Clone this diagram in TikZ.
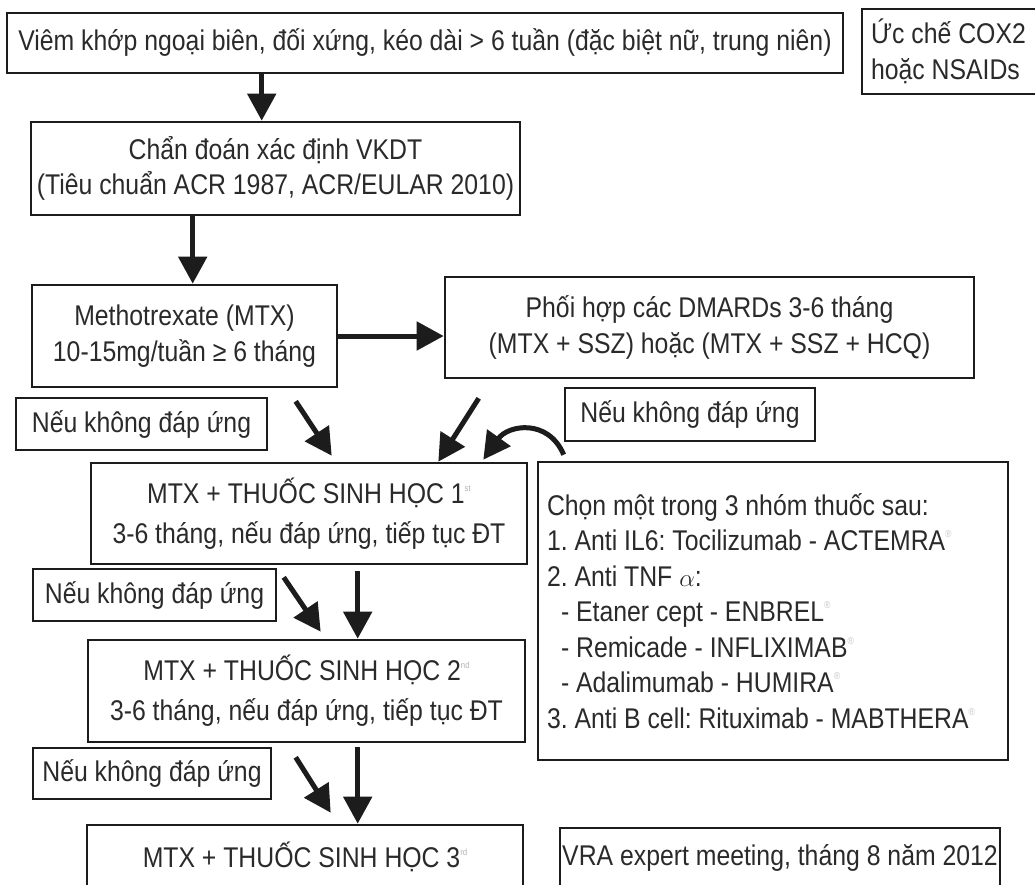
\documentclass[tikz,border=0pt]{standalone}
\usepackage{fontspec}
\setmainfont{Liberation Sans}[FakeStretch=0.87]
\usetikzlibrary{arrows.meta,calc}
\definecolor{ink}{HTML}{2A2A2A}
\definecolor{edge}{HTML}{1C1C1C}
\newcommand\supsc[1]{\raisebox{12pt}{\fontsize{9}{9}\selectfont\color{gray!60}#1}}
\newcommand\regm{\raisebox{13pt}{\fontsize{10}{10}\selectfont\color{gray!45}®}}
\frenchspacing
\begin{document}
\begin{tikzpicture}[x=1pt,y=-1pt,
  box/.style={draw=edge, line width=2.6pt, fill=white, inner sep=0pt, align=center,
    text=ink, font=\fontsize{28.5}{35.5}\selectfont\frenchspacing},
  wide/.style={font=\fontsize{28.5}{40}\selectfont\frenchspacing},
  arr/.style={draw=edge, line width=5pt, -{Triangle[length=27pt,width=28pt]}},
]
\useasboundingbox (0,0) rectangle (1035,884);
\fill[white] (0,0) rectangle (1035,884);
\clip (0,0) rectangle (1035,884);

\node[box, minimum width=836pt, minimum height=60pt] (b1) at (425,43)
  {Viêm khớp ngoại biên, đối xứng, kéo dài > 6 tuần (đặc biệt nữ, trung niên)};
\node[box, minimum width=188pt, minimum height=85pt, text width=170pt, align=flush left, inner xsep=9pt] (cox) at (956,51.5)
  {\mbox{Ức chế COX2}\\\mbox{hoặc NSAIDs}};
\node[box, minimum width=489pt, minimum height=93pt] (b2) at (275.5,168.5)
  {Chẩn đoán xác định VKDT\\(Tiêu chuẩn ACR 1987, ACR/EULAR 2010)};
\node[box, minimum width=305pt, minimum height=102pt] (b3) at (184.5,336)
  {Methotrexate (MTX)\\10-15mg/tuần ≥ 6 tháng};
\node[box, minimum width=529pt, minimum height=101pt] (b4) at (709.5,327.5)
  {Phối hợp các DMARDs 3-6 tháng\\(MTX + SSZ) hoặc (MTX + SSZ + HCQ)};
\node[box, minimum width=251pt, minimum height=52pt] (L1) at (141.5,424) {Nếu không đáp ứng};
\node[box, minimum width=250pt, minimum height=53pt] (L2) at (690,414.5) {Nếu không đáp ứng};
\node[box, wide, minimum width=436pt, minimum height=101pt] (b5) at (309,513.5)
  {MTX + THUỐC SINH HỌC 1\supsc{st}\\3-6 tháng, nếu đáp ứng, tiếp tục ĐT};
\node[box, minimum width=470pt, minimum height=298pt, text width=452pt, align=flush left, inner xsep=9pt] (rb) at (773,611)
  {\mbox{Chọn một trong 3 nhóm thuốc sau:}\\
   \mbox{1. Anti IL6: Tocilizumab - ACTEMRA\regm}\\
   \mbox{2. Anti TNF $\alpha$:}\\
   \mbox{\hspace*{14pt}- Etaner cept - ENBREL\regm}\\
   \mbox{\hspace*{14pt}- Remicade - INFLIXIMAB\regm}\\
   \mbox{\hspace*{14pt}- Adalimumab - HUMIRA\regm}\\
   \mbox{3. Anti B cell: Rituximab - MABTHERA\regm}};
\node[box, minimum width=243pt, minimum height=52pt] (L3) at (154.5,595) {Nếu không đáp ứng};
\node[box, wide, minimum width=437pt, minimum height=102pt] (b6) at (306.5,691)
  {MTX + THUỐC SINH HỌC 2\supsc{nd}\\3-6 tháng, nếu đáp ứng, tiếp tục ĐT};
\node[box, minimum width=238pt, minimum height=51pt] (L4) at (152,773.5) {Nếu không đáp ứng};
\node[box, minimum width=436pt, minimum height=64pt] (b7) at (305,857)
  {MTX + THUỐC SINH HỌC 3\supsc{rd}};
\node[box, minimum width=440pt, minimum height=60pt] (vra) at (780,858)
  {VRA expert meeting, tháng 8 năm 2012};

% connectors
\draw[arr] ([xshift=256pt]b1.south west) -- ([xshift=232pt]b2.north west);
\draw[arr] ([xshift=163pt]b2.south west) -- ([xshift=162pt]b3.north west);
\draw[arr] (b3.east) -- (b3.east -| b4.west);
\coordinate (s4) at ([xshift=265pt,yshift=-13pt]b3.south west);
\draw[arr] (s4) -- ([xshift=242pt,yshift=6pt]b5.north west);
\coordinate (s5) at ([xshift=35pt,yshift=-19pt]b4.south west);
\draw[arr] (s5) -- ([xshift=-90pt]b5.north east);
\draw[arr] ([xshift=27pt,yshift=6pt]rb.north west) .. controls (548,418) and (508,425) .. ([xshift=-45pt,yshift=2pt]b5.north east);
\coordinate (s7) at ([xshift=194pt,yshift=-12pt]b5.south west);
\draw[arr] (s7) -- ([xshift=234pt,yshift=7pt]b6.north west);
\draw[arr] ([xshift=268pt,yshift=-6pt]b5.south west) -- ([xshift=271pt]b6.north west);
\coordinate (s9) at ([xshift=209pt,yshift=-14pt]b6.south west);
\draw[arr] (s9) -- ([xshift=245pt,yshift=11pt]b7.north west);
\draw[arr] ([xshift=271pt,yshift=-4pt]b6.south west) -- ([xshift=272pt]b7.north west);
\end{tikzpicture}
\end{document}
